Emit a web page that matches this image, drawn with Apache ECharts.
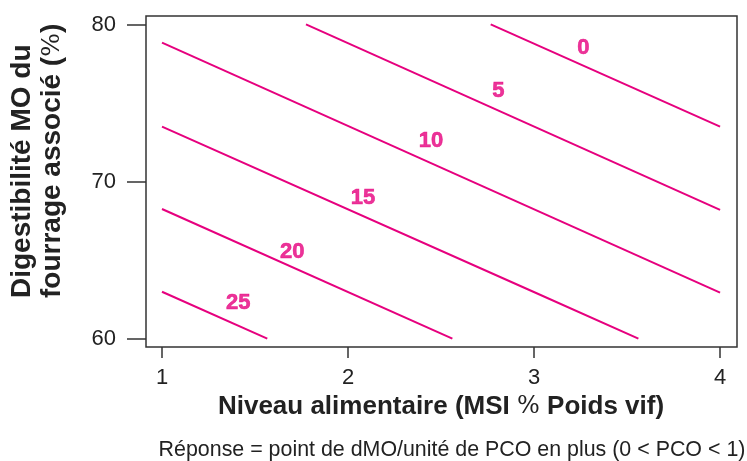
<!DOCTYPE html>
<html>
<head>
<meta charset="utf-8">
<script src="https://cdn.jsdelivr.net/npm/echarts@6/dist/echarts.min.js"></script>
<style>
html,body{margin:0;padding:0;background:#fff;}
#main{width:747px;height:461px;}
</style>
</head>
<body>
<div id="main"></div>
<script>
// contour levels
const levels = ['0', '5', '10', '15', '20', '25'];
// contour line coordinates (x = niveau alimentaire, y = digestibilité)
const line0x = [2.767, 4.0];
const line0y = [80.04, 73.52];
const line5x = [1.774, 4.0];
const line5y = [80.04, 68.22];
const line10x = [1.0, 4.0];
const line10y = [78.87, 62.95];
const line15x = [1.0, 2.996, 3.561];
const line15y = [73.52, 63.01, 60.02];
const line20x = [1.0, 2.561];
const line20y = [68.28, 60.02];
const line25x = [1.0, 1.566];
const line25y = [63.01, 60.02];
// label positions
const labelX = [3.265, 2.808, 2.446, 2.081, 1.70, 1.41];
const labelY = [78.52, 75.82, 72.61, 68.98, 65.56, 62.31];
// ticks
const xTicks = [1, 2, 3, 4];
const yTicks = [60, 70, 80];

const lineXs = [line0x, line5x, line10x, line15x, line20x, line25x];
const lineYs = [line0y, line5y, line10y, line15y, line20y, line25y];

const MAG = '#e6007e';
const FONT = '"Liberation Sans", Arial, sans-serif';
const series = lineXs.map((xs, i) => ({
  type: 'line',
  name: levels[i],
  data: xs.map((x, j) => [x, lineYs[i][j]]),
  symbol: 'none',
  lineStyle: { color: MAG, width: 2 },
  silent: true,
  animation: false
}));
series.push({
  type: 'scatter',
  symbolSize: 0,
  data: labelX.map((x, i) => ({ value: [x, labelY[i]], name: levels[i] })),
  label: {
    show: true,
    position: 'inside',
    formatter: p => p.name,
    color: MAG,
    textBorderColor: MAG,
    textBorderWidth: 0.6,
    fontFamily: FONT,
    fontWeight: 'bold',
    fontSize: 22
  },
  silent: true,
  animation: false
});

const chart = echarts.init(document.getElementById('main'), null, { renderer: 'canvas' });
chart.setOption({
  animation: false,
  backgroundColor: '#fff',
  grid: {
    left: 146, right: 10, top: 16, bottom: 114,
    show: true, borderColor: '#333', borderWidth: 1.5, backgroundColor: 'transparent'
  },
  xAxis: {
    type: 'value', min: 0.914, max: 4.091,
    splitLine: { show: false },
    axisLine: { show: false },
    axisTick: { show: true, customValues: xTicks, length: 11, lineStyle: { color: '#333', width: 1.5 } },
    axisLabel: { customValues: xTicks, margin: 20, color: '#222', fontSize: 22, fontFamily: FONT }
  },
  yAxis: {
    type: 'value', min: 59.49, max: 80.57,
    splitLine: { show: false },
    axisLine: { show: false },
    axisTick: { show: true, customValues: yTicks, length: 19, lineStyle: { color: '#333', width: 1.5 } },
    axisLabel: { customValues: yTicks, margin: 30, color: '#222', fontSize: 22, fontFamily: FONT }
  },
  series: series,
  graphic: [
    {
      type: 'text', x: 7, y: 298, rotation: Math.PI / 2,
      style: {
        text: 'Digestibilité MO du\nfourrage associé ({p|%})',
        textAlign: 'left', textVerticalAlign: 'top',
        font: 'bold 28px ' + FONT,
        lineHeight: 30, fill: '#222',
        rich: { p: { fontFamily: 'DejaVu Serif', fontWeight: 'normal', fontSize: 25, lineHeight: 30, fill: '#222' } }
      }
    },
    {
      type: 'text', x: 441, y: 407,
      style: {
        text: 'Niveau alimentaire (MSI {p|%} Poids vif)',
        textAlign: 'center', textVerticalAlign: 'middle',
        font: 'bold 26px ' + FONT, fill: '#222',
        rich: { p: { fontFamily: 'DejaVu Serif', fontWeight: 'normal', fontSize: 24, fill: '#222' } }
      }
    },
    {
      type: 'text', x: 452, y: 450,
      style: {
        text: 'Réponse = point de dMO/unité de PCO en plus (0 < PCO < 1)',
        textAlign: 'center', textVerticalAlign: 'middle',
        font: '21.4px ' + FONT, fill: '#222'
      }
    }
  ]
});
</script>
</body>
</html>
